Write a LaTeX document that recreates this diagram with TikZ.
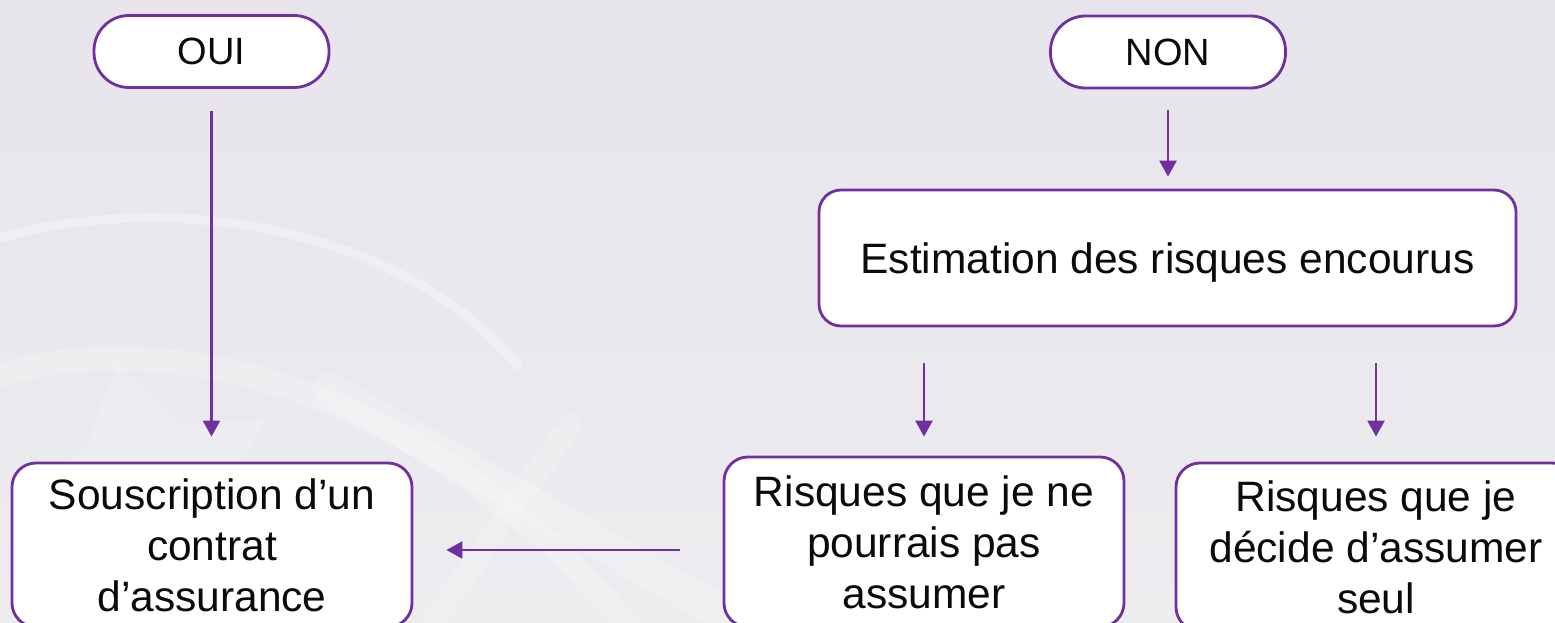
\documentclass[tikz,border=0pt]{standalone}
\usepackage{fontspec}
\setmainfont{Liberation Sans}
\usetikzlibrary{arrows.meta}
\definecolor{purp}{RGB}{112,48,160}
\definecolor{bgtop}{RGB}{231,228,235}
\definecolor{bgmid}{RGB}{226,225,229}
\definecolor{bgbot}{RGB}{237,236,239}
\definecolor{txt}{RGB}{10,10,10}
\begin{document}
\begin{tikzpicture}[x=1pt,y=-1pt,
  box/.style={draw=purp, line width=2.8pt, fill=white, rounded corners=24pt,
    align=center, inner sep=0pt, text=txt,
    font=\fontsize{42.5}{51}\selectfont},
  pill/.style={draw=purp, line width=2.8pt, fill=white, rounded corners=35pt,
    minimum width=235pt, minimum height=72pt, inner sep=0pt, text=txt,
    font=\fontsize{38}{45}\selectfont},
  arr/.style={draw=purp, line width=2.4pt, -{Triangle[width=17pt,length=16pt]}},
  deco/.style={draw=white, line cap=round}]
\useasboundingbox (0,0) rectangle (1555,623);
\clip (0,0) rectangle (1555,623);
\shade[top color=bgtop, middle color=bgmid, bottom color=bgbot] (0,0) rectangle (1555,623);
% faint background decoration
\draw[deco, opacity=0.3, line width=9pt] (-10,241) .. controls (140,193) and (390,213) .. (518,366);
\draw[deco, opacity=0.22, line width=24pt] (-20,382) .. controls (150,318) and (430,380) .. (640,640);
\fill[white, opacity=0.18] (117,363) -- (180,425) -- (265,418) -- (235,480) -- (300,560) -- (190,540) -- (120,623) -- (95,530) -- (0,505) -- (85,450) -- cycle;
\draw[deco, opacity=0.2, line width=34pt] (330,390) -- (770,640);
\draw[deco, opacity=0.16, line width=24pt] (570,425) -- (420,640);

% nodes
\node[pill] (oui) at (211.5,51.5) {OUI};
\node[pill] (non) at (1168,52) {NON};
\node[box, minimum width=697pt, minimum height=136pt, rounded corners=22pt, text depth=0pt] (est) at (1167.5,258) {Estimation des risques encourus};
\node[box, minimum width=400pt, minimum height=164pt] (sous) at (212,545) {Souscription d’un\\contrat\\d’assurance};
\node[box, minimum width=400pt, minimum height=170pt] (ne) at (924,542) {Risques que je ne\\pourrais pas\\assumer};
\node[box, minimum width=400pt, minimum height=168pt] (dec) at (1376,547) {Risques que je\\décide d’assumer\\seul};

% connectors
\draw[arr, shorten <=22pt, shorten >=25pt] (oui.south) -- (oui.south |- sous.north);
\draw[arr, shorten <=21pt, shorten >=12pt] (non.south) -- (non.south |- est.north);
\draw[arr, shorten <=36pt, shorten >=19pt] (est.south -| ne.north) -- (ne.north);
\draw[arr, shorten <=36pt, shorten >=25pt] (est.south -| dec.north) -- (dec.north);
\draw[arr, shorten <=43pt, shorten >=33pt] ([yshift=-8pt]ne.west) -- ([yshift=-8pt]ne.west -| sous.east);
\end{tikzpicture}
\end{document}
